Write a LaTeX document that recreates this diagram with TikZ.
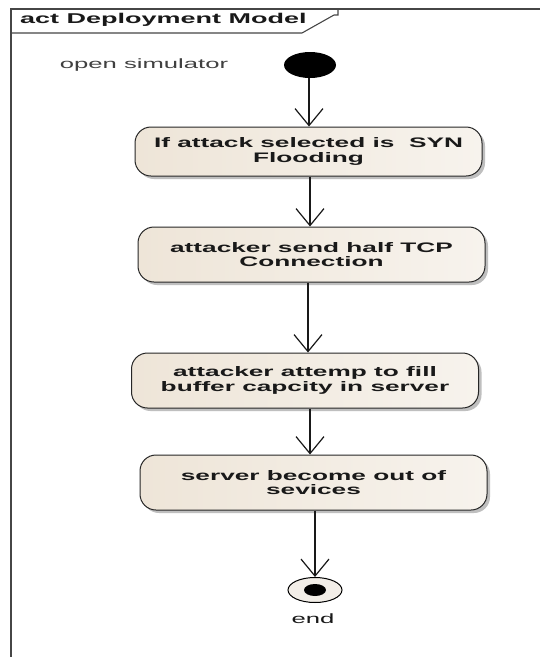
\documentclass[tikz,border=0pt]{standalone}
\usepackage{fontspec}
\setmainfont{Liberation Sans}
\newfontfamily\eabold{Liberation Sans Bold}[FakeStretch=1.9]
\newfontfamily\eareg{Liberation Sans}[FakeStretch=1.9]
\usetikzlibrary{arrows.meta,shapes.geometric,shadows}
\definecolor{framecol}{RGB}{70,70,70}
\definecolor{boxfillA}{RGB}{238,229,216}
\definecolor{boxfillB}{RGB}{247,243,237}
\definecolor{txt}{RGB}{25,25,25}
\definecolor{finalfill}{RGB}{242,238,232}
\tikzset{
  action/.style={rectangle, rounded corners=16pt, draw=black!85, line width=1pt,
    left color=boxfillA, right color=boxfillB,
    drop shadow={shadow xshift=3pt, shadow yshift=-3pt, fill=black!45, opacity=0.55},
    minimum width=347pt, inner sep=0pt, align=center, text=txt,
    font=\eabold\fontsize{13.8}{14.5}\selectfont},
  flow/.style={line width=1.7pt, black!90,
    -{Straight Barb[length=17pt, width=28pt, line width=1.2pt]}},
  label/.style={text=txt, inner sep=0pt}
}
\begin{document}
\begin{tikzpicture}[x=1pt, y=-1pt]
  \useasboundingbox[fill=white] (0,0) rectangle (540,657);

  % activity frame and its name tab
  \draw[framecol, line width=1.6pt] (11,665) -- (11,9) -- (545,9);
  \draw[framecol, line width=1.1pt] (11,33) -- (302,33) -- (334,15) -- (338,15) -- (338,9);
  \node[label, anchor=west, font=\eabold\fontsize{14.2}{15}\selectfont] (title) at (20,20) {act Deployment Model};

  % initial node
  \node[ellipse, fill=black, minimum width=52pt, minimum height=26pt, inner sep=0pt] (start) at (310,65) {};
  \node[label, text=black!75, font=\eareg\fontsize{13.5}{15}\selectfont] (openlbl) at (144,65) {open simulator};

  % actions
  \node[action, minimum height=49pt] (b1) at (308.5,151.5) {If attack selected is \ SYN\\Flooding};
  \node[action, minimum height=55pt] (b2) at (311.5,254.5) {attacker send half TCP\\Connection};
  \node[action, minimum height=55pt] (b3) at (305,380.5) {attacker attemp to fill\\buffer capcity in server};
  \node[action, minimum height=55pt] (b4) at (313.5,482.5) {server become out of\\sevices};

  % final node
  \node[ellipse, draw=black, line width=1pt, fill=finalfill, minimum width=54pt, minimum height=25pt, inner sep=0pt] (endo) at (315,590) {};
  \node[ellipse, fill=black, minimum width=22pt, minimum height=12pt, inner sep=0pt] (endi) at (endo.center) {};
  \node[label, font=\eareg\fontsize{13.5}{15}\selectfont] (endlbl) at (313,619) {end};

  % control flows
  \draw[flow] ([xshift=-1pt]start.south) -- ([xshift=-1pt]start.south |- b1.north);
  \draw[flow] ([xshift=1.5pt]b1.south) -- ([xshift=1.5pt]b1.south |- b2.north);
  \draw[flow] ([xshift=-3.5pt]b2.south) -- ([xshift=-3.5pt]b2.south |- b3.north);
  \draw[flow] ([xshift=5pt]b3.south) -- ([xshift=5pt]b3.south |- b4.north);
  \draw[flow] ([xshift=1.5pt]b4.south) -- ([xshift=1.5pt]b4.south |- endo.north);
\end{tikzpicture}
\end{document}
